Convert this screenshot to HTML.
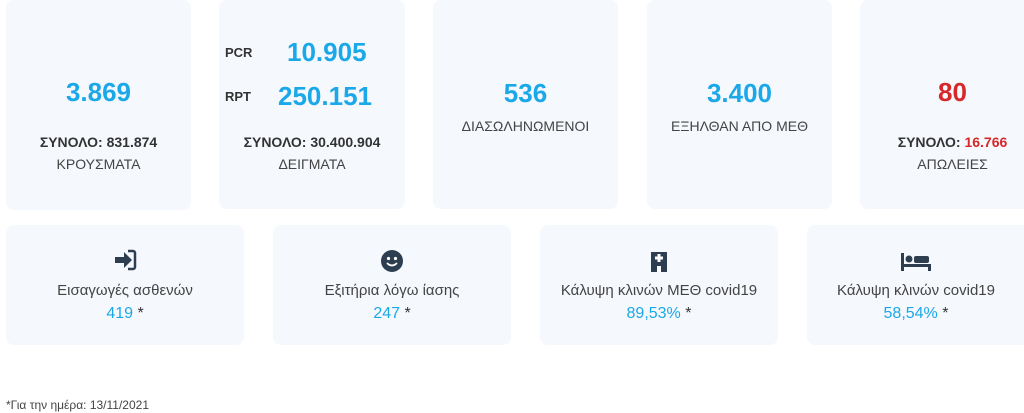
<!DOCTYPE html>
<html><head><meta charset="utf-8"><style>
body{margin:0;width:1024px;height:413px;background:#fff;font-family:"Liberation Sans","DejaVu Sans",sans-serif;color:#333;position:relative;overflow:hidden}
.card{position:absolute;background:#f5f8fd;border-radius:8px;text-align:center}
.big{color:#1ba8e8;font-weight:bold;font-size:26px;position:absolute;left:0;right:0}
.tot{font-weight:bold;font-size:14px;color:#333;position:absolute;left:0;right:0}
.lbl{font-size:14px;color:#444;position:absolute;left:0;right:0}
.ic{position:absolute;left:0;right:0}
.val{font-size:16px;color:#1ba8e8;position:absolute;left:0;right:0}
.val span{color:#333}
</style></head><body>
<div class="card" style="left:6px;top:0;width:185px;height:210px">
<div class="big" style="top:77px">3.869</div>
<div class="tot" style="top:134px">ΣΥΝΟΛΟ: 831.874</div>
<div class="lbl" style="top:156px">ΚΡΟΥΣΜΑΤΑ</div></div>
<div class="card" style="left:219px;top:0;width:186px;height:209px">
<div style="position:absolute;left:6px;top:45px;font-weight:bold;font-size:13px">PCR</div>
<div style="position:absolute;left:68px;top:37px;font-weight:bold;font-size:26px;color:#1ba8e8">10.905</div>
<div style="position:absolute;left:6px;top:89px;font-weight:bold;font-size:13px">RPT</div>
<div style="position:absolute;left:59px;top:81px;font-weight:bold;font-size:26px;color:#1ba8e8">250.151</div>
<div class="tot" style="top:134px">ΣΥΝΟΛΟ: 30.400.904</div>
<div class="lbl" style="top:156px">ΔΕΙΓΜΑΤΑ</div></div>
<div class="card" style="left:433px;top:0;width:185px;height:209px">
<div class="big" style="top:78px">536</div>
<div class="lbl" style="top:118px">ΔΙΑΣΩΛΗΝΩΜΕΝΟΙ</div></div>
<div class="card" style="left:647px;top:0;width:185px;height:209px">
<div class="big" style="top:78px">3.400</div>
<div class="lbl" style="top:118px">ΕΞΗΛΘΑΝ ΑΠΟ ΜΕΘ</div></div>
<div class="card" style="left:860px;top:0;width:185px;height:209px">
<div class="big" style="top:77px;color:#d62828">80</div>
<div class="tot" style="top:134px">ΣΥΝΟΛΟ: <span style="color:#d62828">16.766</span></div>
<div class="lbl" style="top:156px">ΑΠΩΛΕΙΕΣ</div></div>

<div class="card" style="left:6px;top:225px;width:238px;height:120px">
<div class="ic" style="top:24px"><svg width="24" height="22" viewBox="0 0 24 22"><path d="M2 8h9V3l8 8-8 8v-5H2z" fill="#2d3e50"/><path d="M15 2h5a2 2 0 0 1 2 2v14a2 2 0 0 1-2 2h-5" stroke="#2d3e50" stroke-width="2.5" fill="none"/></svg></div>
<div class="lbl" style="top:57px;font-size:15px">Εισαγωγές ασθενών</div>
<div class="val" style="top:80px">419 <span>*</span></div></div>
<div class="card" style="left:273px;top:225px;width:238px;height:120px">
<div class="ic" style="top:25px"><svg width="22" height="22" viewBox="0 0 22 22"><circle cx="11" cy="11" r="11" fill="#2d3e50"/><circle cx="7.5" cy="8.5" r="1.6" fill="#fff"/><circle cx="14.5" cy="8.5" r="1.6" fill="#fff"/><path d="M6 13q5 5 10 0" stroke="#fff" stroke-width="1.8" fill="none"/></svg></div>
<div class="lbl" style="top:57px;font-size:15px">Εξιτήρια λόγω ίασης</div>
<div class="val" style="top:80px">247 <span>*</span></div></div>
<div class="card" style="left:540px;top:225px;width:238px;height:120px">
<div class="ic" style="top:25px"><svg width="18" height="22" viewBox="0 0 18 22"><rect x="1" y="2" width="16" height="20" fill="#2d3e50"/><rect x="7.5" y="4" width="3" height="8" fill="#fff"/><rect x="5" y="6.5" width="8" height="3" fill="#fff"/><rect x="7" y="16" width="4" height="6" fill="#fff"/></svg></div>
<div class="lbl" style="top:57px;font-size:15px">Κάλυψη κλινών ΜΕΘ covid19</div>
<div class="val" style="top:80px">89,53% <span>*</span></div></div>
<div class="card" style="left:807px;top:225px;width:238px;height:120px">
<div class="ic" style="top:28px;left:-20px"><svg width="30" height="18" viewBox="0 0 30 18"><rect x="0" y="0" width="3" height="18" fill="#2d3e50"/><circle cx="8" cy="6" r="3.5" fill="#2d3e50"/><rect x="13" y="3" width="15" height="7" rx="2" fill="#2d3e50"/><rect x="0" y="11" width="30" height="3" fill="#2d3e50"/><rect x="27" y="11" width="3" height="7" fill="#2d3e50"/></svg></div>
<div class="lbl" style="top:57px;font-size:15px;left:-20px">Κάλυψη κλινών covid19</div>
<div class="val" style="top:80px;left:-20px">58,54% <span>*</span></div></div>
<div style="position:absolute;left:6px;top:398px;font-size:12px;color:#444">*Για την ημέρα: 13/11/2021</div>
</body></html>
